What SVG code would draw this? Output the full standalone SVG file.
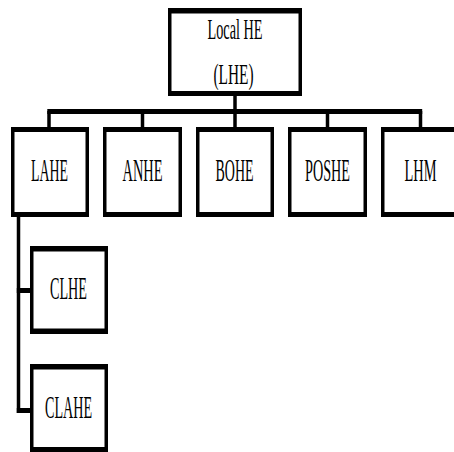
<svg xmlns="http://www.w3.org/2000/svg" width="454" height="452" viewBox="0 0 454 452">
<style>
.bo{fill:#000}
.bi{fill:#fff}
.t{font-family:"Liberation Serif","Times New Roman",serif;font-size:31px;fill:#000;text-anchor:middle}
.tt{font-size:29px}
.h{stroke:#000;stroke-width:5;fill:none}
.v{stroke:#000;stroke-width:3.5;fill:none}
</style>
<rect width="454" height="452" fill="#fff"/>
<g id="connectors">
<line class="v" x1="235" y1="95" x2="235" y2="112"/>
<line class="h" x1="47.3" y1="111.5" x2="422.2" y2="111.5"/>
<line class="v" x1="49" y1="111" x2="49" y2="128"/>
<line class="v" x1="142.5" y1="111" x2="142.5" y2="128"/>
<line class="v" x1="235" y1="111" x2="235" y2="128"/>
<line class="v" x1="327.5" y1="111" x2="327.5" y2="128"/>
<line class="v" x1="420.5" y1="111" x2="420.5" y2="128"/>
<line class="v" x1="18.5" y1="216" x2="18.5" y2="413"/>
<line class="h" x1="16.8" y1="290.5" x2="31" y2="290.5"/>
<line class="h" x1="16.8" y1="410.5" x2="31" y2="410.5"/>
</g>
<g id="LHE">
<rect class="bo" x="168" y="8" width="134" height="88"/>
<rect class="bi" x="171.5" y="13.5" width="127" height="77.5"/>
<text class="t tt" x="235" y="39" textLength="55" lengthAdjust="spacingAndGlyphs">Local HE</text>
<text class="t tt" x="233.5" y="84" textLength="40" lengthAdjust="spacingAndGlyphs">(LHE)</text>
</g>
<g id="LAHE">
<rect class="bo" x="11" y="127" width="78" height="90"/>
<rect class="bi" x="14.5" y="132" width="71" height="80"/>
<text class="t" x="49.5" y="181" textLength="37" lengthAdjust="spacingAndGlyphs">LAHE</text>
</g>
<g id="ANHE">
<rect class="bo" x="103" y="127" width="79" height="90"/>
<rect class="bi" x="106.5" y="132" width="72" height="80"/>
<text class="t" x="142.5" y="181" textLength="40" lengthAdjust="spacingAndGlyphs">ANHE</text>
</g>
<g id="BOHE">
<rect class="bo" x="196" y="127" width="78" height="90"/>
<rect class="bi" x="199.5" y="132" width="71" height="80"/>
<text class="t" x="234.5" y="181" textLength="38" lengthAdjust="spacingAndGlyphs">BOHE</text>
</g>
<g id="POSHE">
<rect class="bo" x="288" y="127" width="79" height="90"/>
<rect class="bi" x="291.5" y="132" width="72" height="80"/>
<text class="t" x="327.5" y="181" textLength="45" lengthAdjust="spacingAndGlyphs">POSHE</text>
</g>
<g id="LHM">
<rect class="bo" x="381" y="127" width="78" height="90"/>
<rect class="bi" x="384.5" y="132" width="71" height="80"/>
<text class="t" x="420.5" y="181" textLength="32" lengthAdjust="spacingAndGlyphs">LHM</text>
</g>
<g id="CLHE">
<rect class="bo" x="30" y="246" width="78" height="88"/>
<rect class="bi" x="33.5" y="251.5" width="71" height="77"/>
<text class="t" x="68.5" y="299" textLength="37" lengthAdjust="spacingAndGlyphs">CLHE</text>
</g>
<g id="CLAHE">
<rect class="bo" x="30" y="364" width="78" height="88"/>
<rect class="bi" x="33.5" y="369.5" width="71" height="77.5"/>
<text class="t" x="68.5" y="418" textLength="47" lengthAdjust="spacingAndGlyphs">CLAHE</text>
</g>
</svg>
